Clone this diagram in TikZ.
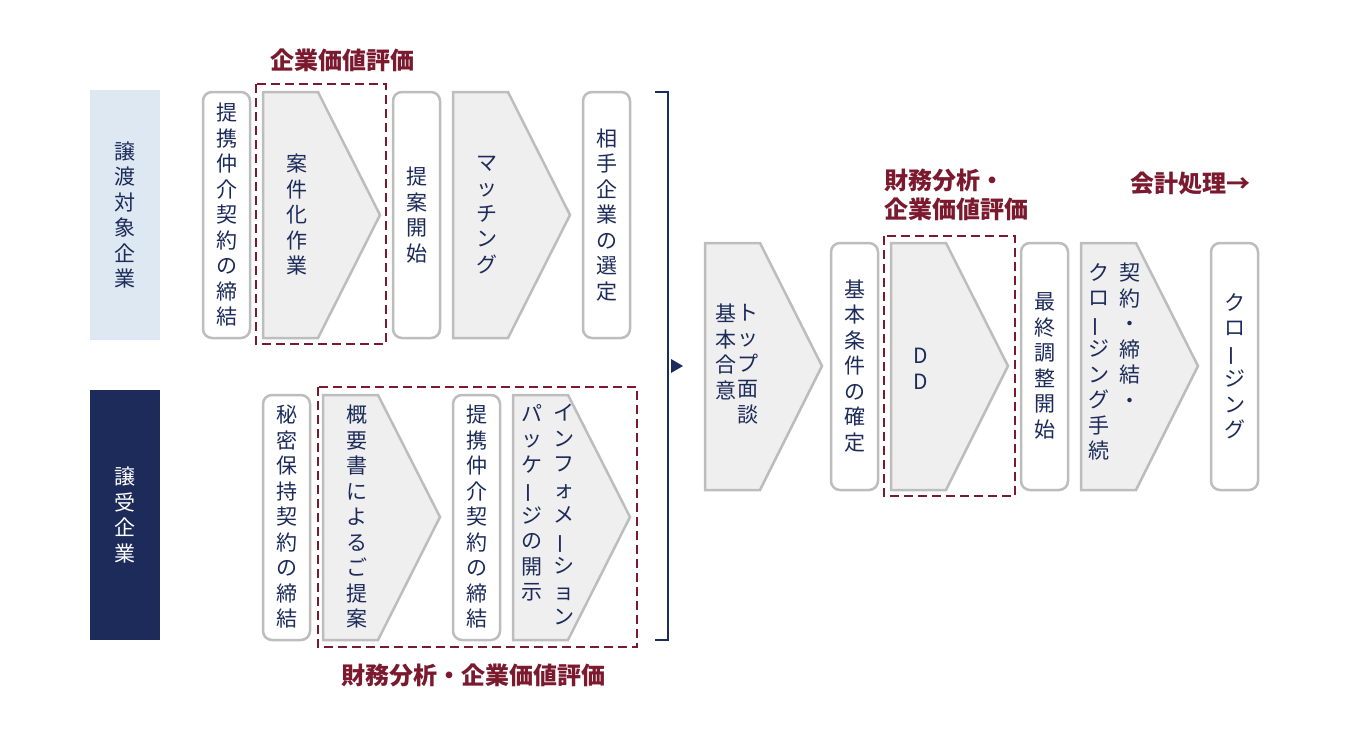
\documentclass[tikz,border=0pt]{standalone}
\usepackage{fontspec}
\setmainfont{Noto Sans CJK JP}
\usepackage{graphicx}
\usetikzlibrary{positioning}
\definecolor{navy}{HTML}{1C2B5A}
\definecolor{wine}{HTML}{7B1A2E}
\definecolor{paleblue}{HTML}{DEE8F2}
\definecolor{boxgray}{HTML}{BDBDBD}
\definecolor{chevfill}{HTML}{EFEFEF}
\makeatletter
\newcommand\vt[1]{\vbox{\baselineskip=25.5pt\@tfor\vtc:=#1\do{\hbox to 22pt{\hss\vtc\hss}}}}
\makeatother
\newcommand\vbar{\rotatebox[origin=c]{90}{ー}}
\tikzset{
  stepbox/.style={draw=boxgray, line width=2.5pt, rounded corners=9pt, fill=white},
  chev/.style={draw=boxgray, line width=2.5pt, fill=chevfill},
  phase/.style={draw=wine, line width=2.2pt, dash pattern=on 9pt off 5pt},
  vtxt/.style={text=navy, font=\fontsize{21}{25.5}\selectfont, inner sep=0pt},
  phaselabel/.style={text=wine, font=\fontsize{24}{29}\selectfont\bfseries, inner sep=0pt}
}
\begin{document}
\begin{tikzpicture}[x=1pt,y=-1pt]
                \useasboundingbox (0,0) rectangle (1350,736);
                % --------
                % left labels
                % --------
                \fill[paleblue] (90,90) rectangle (160,340);
                \node[vtxt] (seller) at (125,215) {\vt{譲渡対象企業}};
                \fill[navy] (90,390) rectangle (160,640);
                \node[vtxt, text=white] (buyer) at (125,515) {\vt{譲受企業}};

                % --------
                % top row
                % --------
                \draw[stepbox] (203,92) rectangle (250,338);
                \node[vtxt] (contract1) at (226.5,215) {\vt{提携仲介契約の締結}};
                \draw[chev] (263,92) -- (318,92) -- (380,215) -- (318,338) -- (263,338) -- cycle;
                \node[vtxt] (casework) at (297,215) {\vt{案件化作業}};
                \draw[phase] (256,84) rectangle (386,344);
                \node[phaselabel] (valtop) at (342,60) {企業価値評価};
                \draw[stepbox] (393,92) rectangle (440,338);
                \node[vtxt] (proposal) at (416.5,215) {\vt{提案開始}};
                \draw[chev] (453,92) -- (508,92) -- (570,215) -- (508,338) -- (453,338) -- cycle;
                \node[vtxt] (matching) at (487,215) {\vt{マッチング}};
                \draw[stepbox] (583,92) rectangle (630,338);
                \node[vtxt] (select) at (606.5,215) {\vt{相手企業の選定}};

                % --------
                % bottom row
                % --------
                \draw[stepbox] (263,395) rectangle (310,640);
                \node[vtxt] (nda) at (286.5,517) {\vt{秘密保持契約の締結}};
                \draw[chev] (323,395) -- (378,395) -- (440,517) -- (378,640) -- (323,640) -- cycle;
                \node[vtxt] (summary) at (357,517) {\vt{概要書によるご提案}};
                \draw[stepbox] (453,395) rectangle (500,640);
                \node[vtxt] (contract2) at (476.5,517) {\vt{提携仲介契約の締結}};
                \draw[chev] (513,395) -- (568,395) -- (630,517) -- (568,640) -- (513,640) -- cycle;
                \node[vtxt, anchor=north] (info) at (564,404) {\vt{インフォメ{\vbar}ション}};
                \node[vtxt, anchor=north] (package) at (532,404) {\vt{パッケ{\vbar}ジの開示}};
                \draw[phase] (318,387) rectangle (637,647);
                \node[phaselabel] (valbottom) at (473,675) {財務分析・企業価値評価};

                % bracket
                \coordinate (brtop) at (655,92);
                \coordinate (brbot) at (655,640);
                \draw[navy, line width=2.2pt] (brtop) -- ++(13,0) |- (brbot);
                \fill[navy] (671,359) -- (683,366) -- (671,373) -- cycle;

                % --------
                % right row
                % --------
                \draw[chev] (705,243) -- (760,243) -- (822,366) -- (760,490) -- (705,490) -- cycle;
                \node[vtxt, anchor=north] (meeting) at (748,304) {\vt{トップ面談}};
                \node[vtxt, anchor=north] (agree) at (726,304) {\vt{基本合意}};
                \draw[stepbox] (831,243) rectangle (878,490);
                \node[vtxt] (terms) at (854.5,366) {\vt{基本条件の確定}};
                \draw[chev] (891,243) -- (946,243) -- (1008,366) -- (946,490) -- (891,490) -- cycle;
                \node[vtxt] (dd) at (921,369) {\vt{DD}};
                \draw[phase] (884,236) rectangle (1015,496);
                \node[phaselabel, align=left, anchor=north west] (valright) at (884,169) {財務分析・\\企業価値評価};
                \draw[stepbox] (1021,243) rectangle (1068,490);
                \node[vtxt] (final) at (1044.5,366) {\vt{最終調整開始}};
                \draw[chev] (1081,243) -- (1136,243) -- (1198,366) -- (1136,490) -- (1081,490) -- cycle;
                \node[vtxt, anchor=north] (sign) at (1130,263) {\vt{契約・締結・}};
                \node[vtxt, anchor=north] (closeproc) at (1099,263) {\vt{クロ{\vbar}ジング手続}};
                \draw[stepbox] (1211,243) rectangle (1258,490);
                \node[vtxt] (closing) at (1234.5,366) {\vt{クロ{\vbar}ジング}};
                \node[phaselabel] (acct) at (1190,183) {会計処理→};
\end{tikzpicture}
\end{document}
